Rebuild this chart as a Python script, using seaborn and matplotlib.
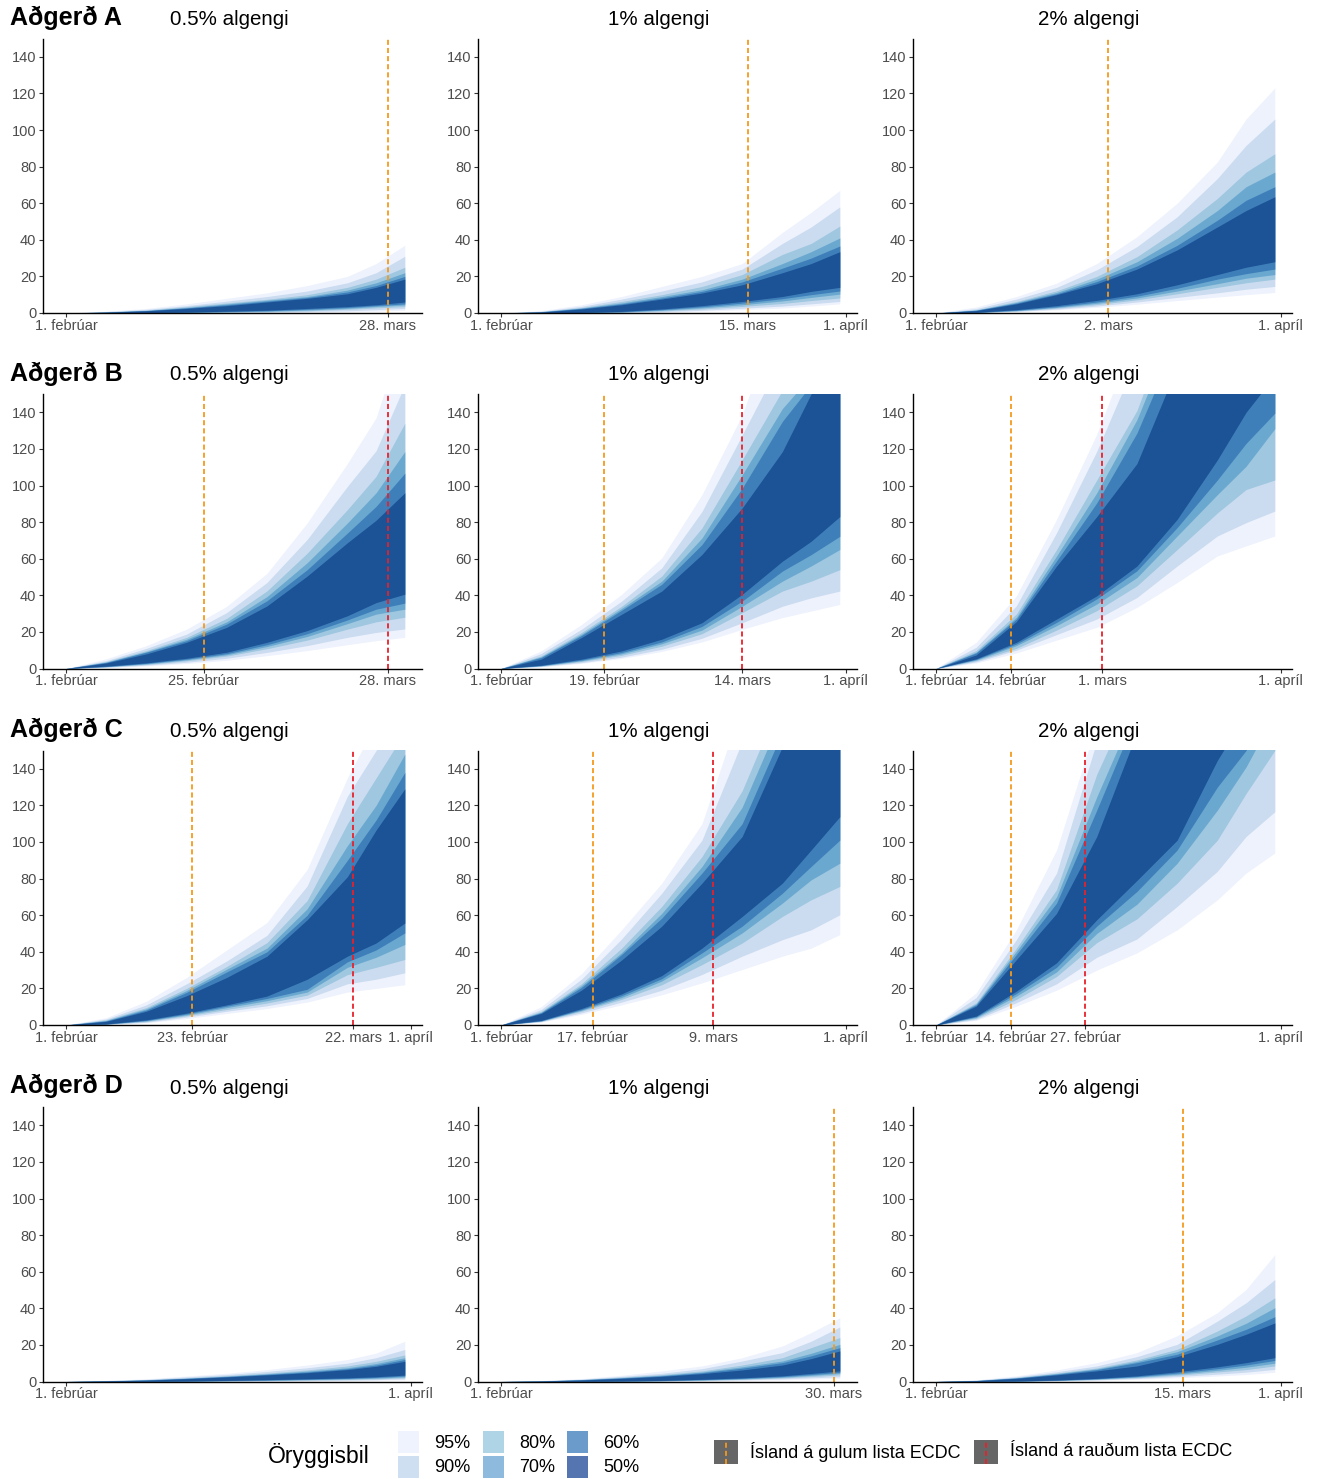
import matplotlib
matplotlib.use('Agg')
import pandas as pd
import seaborn as sb
import matplotlib.pyplot as plt
from matplotlib.patches import Rectangle
from matplotlib.lines import Line2D

# Style first, fonts after (set_style resets font.family)
sb.set_style('ticks')
plt.rcParams['font.family'] = ['Liberation Sans', 'DejaVu Sans']
plt.rcParams['text.color'] = 'black'

# Knot dates where the band edges were read (2020, leap year)
knot_dates = pd.to_datetime(['2020-02-01', '2020-02-08', '2020-02-15', '2020-02-22', '2020-02-29',
                             '2020-03-07', '2020-03-14', '2020-03-21', '2020-03-26', '2020-03-31'])

levels = ['95%', '90%', '80%', '70%', '60%', '50%']
band_colors = ['#eef2fd', '#cbdcf0', '#9fc7e0', '#6ba8d0', '#3e7fba', '#1c5296']
legend_colors = ['#eff3fe', '#cddff0', '#afd4e6', '#8ebadd', '#6a9bcb', '#5575b0']

# Edges per level (95, 90, 80, 70, 60, 50) at knot_dates
a05_upper = [[0, 1, 2.5, 5, 8, 11, 15, 20, 27, 37],
             [0, 0.8, 2, 4, 6.5, 9, 12, 16.5, 22, 31],
             [0, 0.6, 1.6, 3.5, 5.5, 7.5, 10, 14, 18.5, 25],
             [0, 0.5, 1.4, 3, 5, 7, 9, 12.5, 16.5, 22],
             [0, 0.5, 1.3, 2.8, 4.5, 6.5, 8.5, 11.5, 15, 20],
             [0, 0.4, 1.2, 2.5, 4, 6, 8, 10.5, 14, 18.5]]
a05_lower = [[0, 0, 0, 0, 0.1, 0.2, 0.4, 0.7, 1, 1.5],
             [0, 0, 0, 0.1, 0.2, 0.4, 0.8, 1.2, 1.8, 2.5],
             [0, 0, 0, 0.2, 0.4, 0.7, 1.2, 2, 2.8, 3.5],
             [0, 0, 0.1, 0.3, 0.6, 1, 1.6, 2.5, 3.5, 4.4],
             [0, 0, 0.1, 0.4, 0.8, 1.2, 2, 3, 4, 5],
             [0, 0, 0.2, 0.5, 1, 1.5, 2.5, 3.5, 4.5, 6]]

a1_upper = [[0, 1.3, 4.5, 9, 14.5, 20, 27, 44, 55, 67],
            [0, 1, 3.6, 7.6, 12, 17, 24, 38, 47, 58],
            [0, 0.8, 3, 6.3, 10, 14.5, 21, 32, 38, 47.5],
            [0, 0.7, 2.7, 5.5, 9, 12.7, 18.5, 27, 33.5, 41],
            [0, 0.6, 2.5, 5, 8.2, 11.8, 17, 24.5, 30, 36.6],
            [0, 0.5, 2.2, 4.5, 7.6, 10.9, 15.4, 22, 27, 33.5]]
a1_lower = [[0, 0, 0, 0.1, 0.4, 1, 1.8, 2.7, 3.8, 5],
            [0, 0, 0, 0.2, 0.7, 1.5, 2.6, 3.8, 5, 6.3],
            [0, 0, 0.1, 0.4, 1.1, 2.2, 3.6, 5.2, 6.8, 8.2],
            [0, 0, 0.1, 0.5, 1.5, 2.8, 4.5, 6.6, 8.5, 10.3],
            [0, 0, 0.2, 0.7, 1.8, 3.4, 5.4, 7.8, 10, 12],
            [0, 0, 0.3, 0.9, 2.2, 4, 6.3, 9, 11.8, 14]]

a2_upper = [[0, 3.3, 9, 16.3, 27, 41.7, 60, 82.5, 106, 123],
            [0, 2.4, 7.6, 14, 23.6, 36.3, 52.6, 73.5, 91.6, 106],
            [0, 1.8, 6.3, 12.1, 20, 30.8, 45.4, 62.6, 77, 87],
            [0, 1.6, 5.8, 11.2, 18.5, 28, 40.8, 56, 69, 77],
            [0, 1.5, 5.4, 10.5, 17.2, 25.7, 37, 50.7, 61.6, 69],
            [0, 1.3, 5, 10, 16, 24, 34.5, 47, 56, 63.5]]
a2_lower = [[0, 0.1, 0.7, 1.7, 3.1, 4.8, 6.8, 8.7, 10, 11.2],
            [0, 0.2, 0.9, 2.1, 3.8, 6, 8.5, 11, 13, 14.5],
            [0, 0.2, 1.1, 2.6, 4.6, 7.2, 10.5, 14, 16.5, 18.5],
            [0, 0.3, 1.3, 3, 5.3, 8.2, 12, 16, 19, 21],
            [0, 0.3, 1.5, 3.4, 6, 9.2, 13.5, 18.5, 21.5, 24],
            [0, 0.4, 1.8, 4, 6.9, 10.5, 15.4, 21, 25, 28]]

b05_upper = [[0, 5.3, 12.5, 21.5, 34, 52, 79.5, 112, 137, 185],
             [0, 4.3, 11, 18.8, 30.6, 47, 70.5, 99.5, 119, 155],
             [0, 3.8, 9.8, 17, 27.4, 42.4, 63, 86.8, 105, 134],
             [0, 3.5, 9.2, 16, 25.5, 39.3, 57.8, 79.5, 96, 118.5],
             [0, 3.3, 8.9, 15.2, 24.3, 37, 54, 74, 88.6, 106.7],
             [0, 3, 8, 14.3, 22.5, 34.2, 50.5, 68.7, 81, 96]]
b05_lower = [[0, 0.5, 1.4, 2.7, 4.5, 7, 9.8, 13, 15.2, 17],
             [0, 0.7, 1.8, 3.4, 5.6, 8.8, 12.5, 17, 19.7, 21.6],
             [0, 0.9, 2.2, 4.2, 6.8, 10.8, 15.5, 21.5, 25.5, 28],
             [0, 1, 2.5, 4.7, 7.5, 12, 17.5, 24.5, 29.7, 32.4],
             [0, 1.1, 2.8, 5.1, 8.1, 13, 19, 26.5, 32.4, 35.7],
             [0, 1.3, 3.1, 5.6, 8.9, 14.3, 20.7, 28.8, 36, 40.6]]

b1_upper = [[0, 9.6, 24, 40.5, 60.4, 95, 138.5, 200, 240, 290],
            [0, 8.2, 21.4, 36.8, 55, 85.8, 127.6, 170, 200, 240],
            [0, 6.9, 19.6, 34, 50.5, 76.8, 114, 152, 175, 210],
            [0, 6.4, 18.7, 32.8, 47.7, 71.3, 105.8, 142, 160, 190],
            [0, 6, 18, 31.8, 46, 67.7, 98.5, 135, 155, 180],
            [0, 5.1, 16.9, 29.6, 42.3, 62.3, 87.7, 118.5, 150, 175]]
b1_lower = [[0, 0.9, 2.8, 5.5, 9.3, 14.5, 21.4, 27.8, 31.4, 35],
            [0, 1.1, 3.2, 6.2, 10.5, 16.5, 25, 34, 38.6, 42.3],
            [0, 1.3, 3.8, 7.2, 12.2, 19, 30.5, 42.3, 47.7, 54],
            [0, 1.5, 4.2, 8, 13.5, 21, 34, 47.7, 56, 65],
            [0, 1.6, 4.6, 8.7, 14.5, 23, 36.8, 53.2, 62.2, 72.2],
            [0, 1.8, 5.1, 9.6, 16, 25, 40.5, 58.6, 69.5, 83]]

b2_upper = [[0, 14.3, 39.7, 81.5, 128, 185, 240, 290, 320, 360],
            [0, 11.6, 34.3, 74.2, 118.7, 170, 220, 280, 300, 330],
            [0, 9.8, 29.8, 65, 103, 141, 200, 240, 270, 300],
            [0, 8.9, 28, 61.5, 96, 136, 190, 230, 260, 290],
            [0, 8.5, 27, 58.8, 90.5, 128.7, 180, 220, 250, 280],
            [0, 7.4, 25.6, 56, 83, 112, 165, 200, 230, 260]]
b2_lower = [[0, 3, 8.5, 15.5, 22.5, 33.4, 47, 61.5, 67, 72.4],
            [0, 3.6, 10, 18.5, 27, 38.8, 56, 72.4, 79.7, 86],
            [0, 4.2, 11, 21, 31.6, 45.2, 65, 85, 97.8, 103],
            [0, 4.6, 12.5, 23.4, 35.2, 49.7, 72.4, 95, 110.5, 131],
            [0, 5, 13.4, 25.2, 38, 53.4, 77, 103, 123, 139.5],
            [0, 5.3, 14.3, 27, 39.7, 56, 81.5, 114, 140, 160]]

c05_upper = [[0, 4, 13, 26, 41, 56, 85, 135, 165, 200],
             [0, 3.3, 11, 22.5, 35, 49, 76, 125, 150, 180],
             [0, 2.8, 9.5, 20, 32, 45, 68, 110, 135, 160],
             [0, 2.5, 8.8, 18.8, 30.5, 42, 63.5, 98, 120, 148],
             [0, 2.2, 8.2, 17.8, 29, 40, 60, 90, 112, 138],
             [0, 2, 7.5, 16, 26, 37.6, 57.5, 81, 106.5, 129]]
c05_lower = [[0, 0.2, 1.2, 3.5, 6.3, 9, 12.5, 18, 20, 22],
             [0, 0.3, 1.5, 4.3, 7.5, 10.5, 14.5, 22.5, 25, 28.5],
             [0, 0.4, 1.9, 5, 8.5, 12, 16.3, 27.5, 31.5, 35.8],
             [0, 0.5, 2.2, 5.5, 9.5, 13.3, 18, 31.5, 37, 44],
             [0, 0.5, 2.5, 6, 10.3, 14.5, 19.5, 34.5, 41, 50.3],
             [0, 0.6, 2.8, 6.5, 11, 15.8, 25, 37.6, 44.8, 55.7]]

c1_upper = [[0, 10, 28, 52, 77.5, 110, 175, 210, 240, 270],
            [0, 8.5, 25, 47, 72, 101, 155, 195, 225, 250],
            [0, 7.5, 22.5, 42, 64.8, 92, 128, 180, 210, 235],
            [0, 7, 21.5, 39.5, 61, 86.6, 119, 170, 195, 220],
            [0, 6.7, 20.5, 38.5, 58.4, 83, 110, 160, 185, 210],
            [0, 6.3, 19, 35.5, 54, 77.5, 103, 152, 175, 200]]
c1_lower = [[0, 1.6, 5.8, 11, 16.5, 23, 30.3, 37.6, 42, 49.4],
            [0, 1.8, 6.6, 12.5, 19, 27.6, 37.6, 46.6, 52, 60.2],
            [0, 2, 7.5, 14, 22, 33, 44.8, 59.3, 68.4, 75.7],
            [0, 2.2, 8, 15, 24, 36.7, 50.3, 66.6, 79.3, 88.4],
            [0, 2.3, 8.4, 16, 25.3, 39.4, 54, 72, 86.6, 101],
            [0, 2.5, 9, 17, 27, 42, 59.3, 77.5, 95.6, 113.8]]

c2_upper = [[0, 17.6, 52, 95.6, 165, 215, 265, 300, 330, 360],
            [0, 15, 46.6, 83, 155, 200, 250, 290, 320, 350],
            [0, 12.2, 42, 74, 137, 185, 230, 270, 300, 330],
            [0, 11.5, 40.3, 70, 124.7, 175, 220, 260, 290, 320],
            [0, 11, 38.5, 66.6, 117.4, 170, 210, 250, 280, 310],
            [0, 10.3, 35.7, 61, 103, 160, 200, 240, 270, 300]]
c2_lower = [[0, 2.5, 10.3, 19, 30, 39.4, 52, 68.4, 83, 94],
            [0, 3, 12.2, 22.5, 37, 47, 64.8, 84, 103, 116.5],
            [0, 3.6, 14, 26.5, 45, 58, 77.5, 101, 126.5, 150],
            [0, 4.1, 15.8, 29, 50, 66, 88.4, 117.4, 141, 170],
            [0, 4.5, 17.2, 31.5, 54, 73, 95.6, 130, 150, 190],
            [0, 4.9, 18.5, 34, 57.5, 79, 101, 144.6, 170, 210]]

d05_upper = [[0, 0.6, 1.5, 3, 4.5, 6.5, 9, 12, 15.5, 22],
             [0, 0.5, 1.2, 2.5, 3.8, 5.5, 7.5, 10, 13, 17.5],
             [0, 0.4, 1, 2, 3.2, 4.6, 6.3, 8.5, 11, 14.5],
             [0, 0.3, 0.9, 1.8, 2.9, 4.2, 5.7, 7.5, 9.8, 13],
             [0, 0.3, 0.8, 1.7, 2.7, 3.9, 5.2, 7, 9, 12],
             [0, 0.3, 0.7, 1.5, 2.5, 3.6, 4.8, 6.5, 8.3, 11]]
d05_lower = [[0, 0, 0, 0, 0, 0.1, 0.3, 0.4, 0.6, 0.9],
             [0, 0, 0, 0, 0.1, 0.3, 0.5, 0.7, 1, 1.4],
             [0, 0, 0, 0.1, 0.3, 0.5, 0.8, 1.1, 1.4, 2],
             [0, 0, 0, 0.2, 0.4, 0.6, 1, 1.4, 1.8, 2.5],
             [0, 0, 0.1, 0.2, 0.5, 0.8, 1.2, 1.7, 2.2, 3],
             [0, 0, 0.1, 0.3, 0.6, 1, 1.5, 2, 2.6, 3.5]]

d1_upper = [[0, 0.5, 1.6, 3.4, 5.8, 8.5, 13, 19.4, 26.7, 34.8],
            [0, 0.4, 1.3, 2.8, 4.5, 7, 11.2, 15.8, 22, 29.8],
            [0, 0.3, 1.1, 2.4, 3.8, 5.8, 9, 13, 18.5, 24],
            [0, 0.3, 1, 2.1, 3.4, 5.2, 8, 11.2, 15.4, 20.3],
            [0, 0.3, 0.9, 1.9, 3.1, 4.8, 7.3, 10.3, 14, 18.5],
            [0, 0.2, 0.8, 1.7, 2.8, 4.3, 6.3, 9, 12.5, 16.7]]
d1_lower = [[0, 0, 0, 0, 0.1, 0.3, 0.6, 0.9, 1.3, 1.8],
            [0, 0, 0, 0.1, 0.2, 0.5, 0.9, 1.4, 2, 2.6],
            [0, 0, 0, 0.1, 0.3, 0.7, 1.2, 1.9, 2.7, 3.6],
            [0, 0, 0, 0.2, 0.4, 0.8, 1.4, 2.3, 3.3, 4.4],
            [0, 0, 0.1, 0.2, 0.5, 1, 1.7, 2.7, 3.8, 5],
            [0, 0, 0.1, 0.3, 0.6, 1.2, 2, 3.1, 4.4, 5.8]]

d2_upper = [[0, 0.9, 3.1, 6.3, 10.3, 15.8, 25, 37.6, 50.3, 69.3],
            [0, 0.7, 2.6, 5.3, 8.5, 13.6, 20.3, 33, 43, 55.7],
            [0, 0.6, 2.2, 4.6, 7.4, 11.8, 17.6, 27.6, 35.8, 45.7],
            [0, 0.5, 2, 4.3, 6.9, 11, 16.3, 24.9, 31.8, 40.3],
            [0, 0.5, 1.9, 4, 6.5, 10.3, 14.9, 22.7, 28.5, 35.4],
            [0, 0.4, 1.7, 3.6, 5.8, 8.5, 13.6, 20.3, 25.8, 32]]
d2_lower = [[0, 0, 0.1, 0.3, 0.6, 1.2, 2, 3, 3.8, 5],
            [0, 0, 0.1, 0.4, 0.9, 1.6, 2.7, 4, 5.1, 6.6],
            [0, 0, 0.1, 0.5, 1.1, 2, 3.4, 5.2, 6.5, 8.5],
            [0, 0, 0.2, 0.6, 1.3, 2.4, 4, 6.1, 7.8, 10],
            [0, 0, 0.2, 0.7, 1.5, 2.7, 4.6, 7, 9, 11.5],
            [0, 0, 0.3, 0.8, 1.7, 3.1, 5.3, 8, 10.3, 13]]

measures = ['Aðgerð A', 'Aðgerð B', 'Aðgerð C', 'Aðgerð D']
prevalences = ['0.5% algengi', '1% algengi', '2% algengi']

uppers = [[a05_upper, a1_upper, a2_upper], [b05_upper, b1_upper, b2_upper],
          [c05_upper, c1_upper, c2_upper], [d05_upper, d1_upper, d2_upper]]
lowers = [[a05_lower, a1_lower, a2_lower], [b05_lower, b1_lower, b2_lower],
          [c05_lower, c1_lower, c2_lower], [d05_lower, d1_lower, d2_lower]]

# Dates Iceland entered the ECDC yellow / red list
yellow_dates = [['2020-03-28', '2020-03-15', '2020-03-02'],
                ['2020-02-25', '2020-02-19', '2020-02-14'],
                ['2020-02-23', '2020-02-17', '2020-02-14'],
                [None, '2020-03-30', '2020-03-15']]
red_dates = [[None, None, None],
             ['2020-03-28', '2020-03-14', '2020-03-01'],
             ['2020-03-22', '2020-03-09', '2020-02-27'],
             [None, None, None]]

yellow_color = '#f59a1c'
red_color = '#e8212b'
month_names = {1: 'janúar', 2: 'febrúar', 3: 'mars', 4: 'apríl'}

W, H = 1317, 1479
fig = plt.figure(figsize=(W / 100, H / 100), dpi=100)

col_left = [43, 478, 913]
row_top = [38.5, 394, 750.5, 1107]
ax_w, ax_h = 379, 274.5
title_x = [229, 659, 1089]

start = pd.Timestamp('2020-02-01')
end = pd.Timestamp('2020-04-01')


def fmt_date(d):
    return f"{d.day}. {month_names[d.month]}"


for r in range(4):
    base_y = row_top[r] - 13.5
    fig.text(10 / W, 1 - base_y / H, measures[r], fontsize=18, fontweight='bold',
             color='black', ha='left', va='baseline')
    for c in range(3):
        ax = fig.add_axes([col_left[c] / W, 1 - (row_top[r] + ax_h) / H, ax_w / W, ax_h / H])
        up = uppers[r][c]
        lo = lowers[r][c]
        for i in range(len(levels)):
            ax.fill_between(knot_dates, lo[i], up[i], color=band_colors[i], lw=0)

        marks = []
        if yellow_dates[r][c] is not None:
            yd = pd.Timestamp(yellow_dates[r][c])
            ax.axvline(yd, color=yellow_color, lw=1.3, ls=(0, (2.8, 1.7)))
            marks.append(yd)
        if red_dates[r][c] is not None:
            rd = pd.Timestamp(red_dates[r][c])
            ax.axvline(rd, color=red_color, lw=1.3, ls=(0, (2.8, 1.7)))
            marks.append(rd)

        ticks = [start] + sorted(marks)
        if not marks or (end - max(marks)).days >= 5:
            ticks.append(end)
        ax.set_xticks(ticks)
        ax.set_xticklabels([fmt_date(t) for t in ticks])

        ax.set_xlim(start - pd.Timedelta(days=4), start + pd.Timedelta(days=62))
        ax.set_ylim(0, 150)
        ax.set_yticks(range(0, 141, 20))

        sb.despine(ax=ax)
        for s in ['left', 'bottom']:
            ax.spines[s].set_linewidth(1.0)
            ax.spines[s].set_color('black')
        ax.tick_params(axis='both', length=2.6, width=0.8, color='#333333',
                       labelcolor='#4d4d4d', labelsize=10.5)
        ax.tick_params(axis='y', pad=2.2)
        ax.tick_params(axis='x', pad=1.5)

        fig.text(title_x[c] / W, 1 - base_y / H, prevalences[c], fontsize=14.8,
                 color='black', ha='center', va='baseline')

# Legend: confidence bands
fig.text(268 / W, 1 - 1455 / H, 'Öryggisbil', fontsize=16.5, color='black', ha='left', va='center')
sq_x = [398, 483, 567]
sq_y = [1431, 1456]
for i in range(len(levels)):
    cx = sq_x[i // 2]
    cy = sq_y[i % 2]
    fig.add_artist(Rectangle((cx / W, 1 - (cy + 22) / H), 21 / W, 22 / H,
                             transform=fig.transFigure, facecolor=legend_colors[i], lw=0))
    fig.text((cx + 36) / W, 1 - (cy + 12) / H, levels[i], fontsize=13, color='black',
             ha='left', va='center')

# Legend: list dates
line_keys = [(714, yellow_color, 'Ísland á gulum lista ECDC'),
             (974, red_color, 'Ísland á rauðum lista ECDC')]
for kx, kc, label in line_keys:
    fig.add_artist(Rectangle((kx / W, 1 - 1464 / H), 24 / W, 24 / H,
                             transform=fig.transFigure, facecolor='#666666', lw=0))
    fig.add_artist(Line2D([(kx + 12) / W, (kx + 12) / W], [1 - 1464 / H, 1 - 1440 / H],
                          transform=fig.transFigure, color=kc, lw=1.3, ls=(0, (2.8, 1.7))))
    fig.text((kx + 36) / W, 1 - 1452 / H, label, fontsize=13, color='black',
             ha='left', va='center')

fig.savefig('out.png', dpi=100)
